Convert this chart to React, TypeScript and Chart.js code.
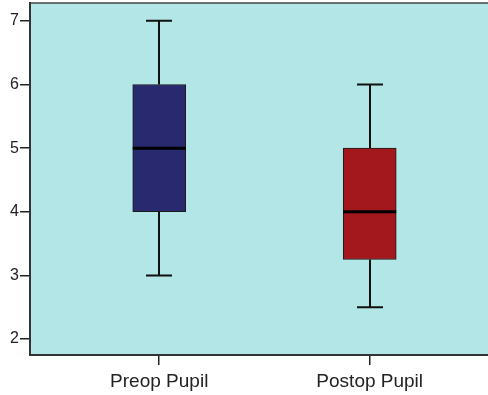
import React, { useEffect, useRef } from "react";
import { Chart, registerables } from "chart.js";

Chart.register(...registerables);

const categories = ["Preop Pupil", "Postop Pupil"];
const positions = [1, 2];
const mins = [3, 2.5];
const q1s = [4, 3.25];
const medians = [5, 4];
const q3s = [6, 5];
const maxs = [7, 6];
const yTicks = [2, 3, 4, 5, 6, 7];
const boxColors = ["#29296f", "#a3181c"];

const BG = "#b3e6e6";

const boxPlugin = {
  id: "boxExtras",
  beforeDraw(chart: any) {
    const { ctx, chartArea } = chart;
    ctx.save();
    ctx.fillStyle = BG;
    ctx.fillRect(chartArea.left, chartArea.top, chartArea.right - chartArea.left, chartArea.bottom - chartArea.top);
    ctx.strokeStyle = "#444";
    ctx.lineWidth = 1.5;
    ctx.beginPath();
    ctx.moveTo(chartArea.left, chartArea.top);
    ctx.lineTo(chartArea.right, chartArea.top);
    ctx.stroke();
    ctx.restore();
  },
  beforeDatasetsDraw(chart: any) {
    const { ctx } = chart;
    const xs = chart.scales.x;
    const ys = chart.scales.y;
    ctx.save();
    ctx.strokeStyle = "#111";
    positions.forEach((p, i) => {
      const cx = Math.round(xs.getPixelForValue(p));
      const capHalf = 13;
      ctx.lineWidth = 2;
      ctx.beginPath();
      ctx.moveTo(cx, ys.getPixelForValue(q3s[i]));
      ctx.lineTo(cx, ys.getPixelForValue(maxs[i]));
      ctx.moveTo(cx, ys.getPixelForValue(q1s[i]));
      ctx.lineTo(cx, ys.getPixelForValue(mins[i]));
      ctx.stroke();
      ctx.lineWidth = 2;
      ctx.beginPath();
      const yMax = ys.getPixelForValue(maxs[i]);
      const yMin = ys.getPixelForValue(mins[i]);
      ctx.moveTo(cx - capHalf, yMax);
      ctx.lineTo(cx + capHalf, yMax);
      ctx.moveTo(cx - capHalf, yMin);
      ctx.lineTo(cx + capHalf, yMin);
      ctx.stroke();
    });
    ctx.restore();
  },
  afterDatasetsDraw(chart: any) {
    const { ctx } = chart;
    const ys = chart.scales.y;
    const meta = chart.getDatasetMeta(0);
    ctx.save();
    ctx.strokeStyle = "#000";
    ctx.lineWidth = 3;
    meta.data.forEach((bar: any, i: number) => {
      const half = bar.width / 2;
      const y = ys.getPixelForValue(medians[i]);
      ctx.beginPath();
      ctx.moveTo(bar.x - half, y);
      ctx.lineTo(bar.x + half, y);
      ctx.stroke();
    });
    ctx.restore();
  },
};

export default function App() {
  const ref = useRef<HTMLCanvasElement>(null);
  useEffect(() => {
    if (!ref.current) return;
    const chart = new Chart(ref.current, {
      type: "bar",
      data: {
        datasets: [
          {
            data: positions.map((p, i) => ({ x: p, y: [q1s[i], q3s[i]] })) as any,
            backgroundColor: boxColors,
            borderColor: "#1a1a1a",
            borderWidth: 1,
            borderSkipped: false,
            barThickness: 53,
          },
        ],
      },
      options: {
        animation: false,
        responsive: false,
        maintainAspectRatio: false,
        layout: { padding: { top: 3, right: 0, left: 0, bottom: 0 } },
        plugins: { legend: { display: false }, tooltip: { enabled: false } },
        scales: {
          x: {
            type: "linear",
            offset: false,
            min: 0.386,
            max: 2.562,
            afterBuildTicks: (s: any) => {
              s.ticks = positions.map((v) => ({ value: v }));
            },
            afterFit: (s: any) => {
              s.height = 40;
              s.paddingLeft = 0;
              s.paddingRight = 0;
            },
            ticks: {
              autoSkip: false,
              maxRotation: 0,
              padding: 5,
              color: "#222",
              font: { family: "'Liberation Sans', Arial, sans-serif", size: 19 },
              callback: (v: any) => {
                const idx = positions.indexOf(Number(v));
                return idx >= 0 ? categories[idx] : "";
              },
            },
            grid: { offset: false, drawOnChartArea: false, drawTicks: true, tickLength: 10, color: "#222", lineWidth: 1.5 },
            border: { display: true, color: "#333", width: 2 },
          },
          y: {
            min: 1.75,
            max: 7.28,
            afterBuildTicks: (s: any) => {
              s.ticks = yTicks.map((v) => ({ value: v }));
            },
            afterFit: (s: any) => {
              s.width = 30;
              s.paddingTop = 0;
              s.paddingBottom = 0;
            },
            ticks: {
              padding: 1,
              color: "#222",
              font: { family: "'Liberation Sans', Arial, sans-serif", size: 16 },
            },
            grid: { drawOnChartArea: false, drawTicks: true, tickLength: 10, color: "#222", lineWidth: 1.5 },
            border: { display: true, color: "#333", width: 2 },
          },
        },
      },
      plugins: [boxPlugin],
    });
    return () => chart.destroy();
  }, []);
  return (
    <div style={{ position: "fixed", left: 0, top: 0, width: 488, height: 395, background: "#fff" }}>
      <canvas ref={ref} width={488} height={395} style={{ width: 488, height: 395 }} />
    </div>
  );
}
